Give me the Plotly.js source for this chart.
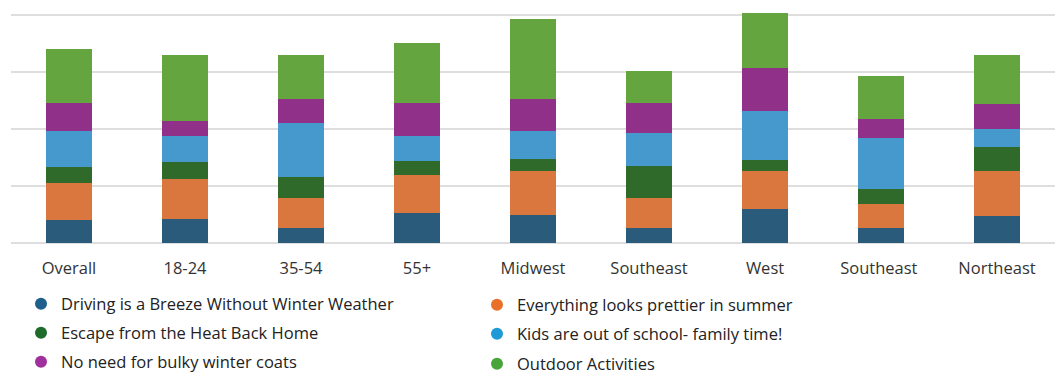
<!DOCTYPE html>
<html>
<head>
<meta charset="utf-8">
<script src="https://cdn.plot.ly/plotly-3.0.1.min.js"></script>
<style>
  html, body { margin: 0; padding: 0; background: #ffffff; }
  #chart { width: 1055px; height: 375px; }
</style>
</head>
<body>
<div id="chart"></div>
<script>
// Reasons for summer travel, stacked by segment
const categories = ['Overall', '18-24', '35-54', '55+', 'Midwest', 'Southeast', 'West', 'Southeast ', 'Northeast'];

const driving    = [4.1, 4.2, 2.7, 5.2, 4.9, 2.7, 6.0, 2.7, 4.8];
const prettier   = [6.4, 7.1, 5.2, 6.7, 7.8, 5.2, 6.7, 4.1, 7.9];
const escapeHeat = [2.8, 2.9, 3.7, 2.5, 2.0, 5.6, 1.9, 2.6, 4.1];
const kids       = [6.4, 4.5, 9.5, 4.3, 4.9, 5.7, 8.5, 9.0, 3.1];
const coats      = [4.9, 2.7, 4.1, 5.9, 5.6, 5.4, 7.6, 3.4, 4.4];
const outdoor    = [9.4, 11.5, 7.7, 10.4, 14.0, 5.5, 9.7, 7.5, 8.6];

const seriesNames = [
  'Driving is a Breeze Without Winter Weather',
  'Everything looks prettier in summer',
  'Escape from the Heat Back Home',
  'Kids are out of school- family time!',
  'No need for bulky winter coats',
  'Outdoor Activities'
];
const seriesValues = [driving, prettier, escapeHeat, kids, coats, outdoor];
const barColors = ['#2b5b7b', '#d9773e', '#2f6a2b', '#4599cc', '#913088', '#64a540'];
const dotColors = ['#1f5f8b', '#e8702a', '#1e6b2a', '#1e9ad6', '#a0309e', '#48a53a'];

// legend slot for each series: [x centre of dot, y centre of row] in page pixels
const legendSlots = [[46, 304], [502, 305], [46, 333], [502, 334], [46, 362], [502, 364]];

const FONT = '"Open Sans", Lato, sans-serif';
const W = 1055, H = 375;
const traces = [];
seriesValues.forEach((vals, i) => {
  traces.push({
    type: 'bar',
    x: categories,
    y: vals,
    name: seriesNames[i],
    marker: { color: barColors[i], line: { width: 0 } },
    showlegend: false,
    hoverinfo: 'x+y+name'
  });
});
// round legend keys
seriesValues.forEach((vals, i) => {
  traces.push({
    type: 'scatter',
    mode: 'markers',
    x: [categories[0]],
    y: [null],
    name: seriesNames[i],
    marker: { color: dotColors[i], size: 12, symbol: 'circle' },
    legend: i === 0 ? 'legend' : 'legend' + (i + 1),
    showlegend: true,
    hoverinfo: 'skip'
  });
});

const layout = {
  width: W,
  height: H,
  paper_bgcolor: '#ffffff',
  plot_bgcolor: '#ffffff',
  barmode: 'stack',
  bargap: 0.6,
  margin: { l: 11, r: 0, t: 0, b: 132 },
  font: { family: FONT, size: 16.5, color: '#333333' },
  xaxis: {
    type: 'category',
    range: [-0.5, 8.5],
    showgrid: false,
    showline: false,
    zeroline: false,
    ticks: '',
    ticklabelstandoff: 13,
    tickfont: { family: FONT, size: 16.5, color: '#333333' },
    fixedrange: true
  },
  yaxis: {
    range: [0, 42.6],
    dtick: 10,
    tick0: 0,
    showgrid: true,
    gridcolor: '#dedede',
    gridwidth: 2,
    zeroline: true,
    zerolinecolor: '#dedede',
    zerolinewidth: 2,
    showticklabels: false,
    ticks: '',
    fixedrange: true
  },
  showlegend: true
};

legendSlots.forEach((slot, i) => {
  const key = i === 0 ? 'legend' : 'legend' + (i + 1);
  layout[key] = {
    xref: 'container',
    yref: 'container',
    x: (slot[0] - 25) / W,
    y: 1 - slot[1] / H,
    xanchor: 'left',
    yanchor: 'middle',
    orientation: 'h',
    bgcolor: 'rgba(0,0,0,0)',
    borderwidth: 0,
    font: { family: FONT, size: 16.5, color: '#222222' }
  };
});

Plotly.newPlot('chart', traces, layout, { displayModeBar: false, staticPlot: true });
</script>
</body>
</html>
